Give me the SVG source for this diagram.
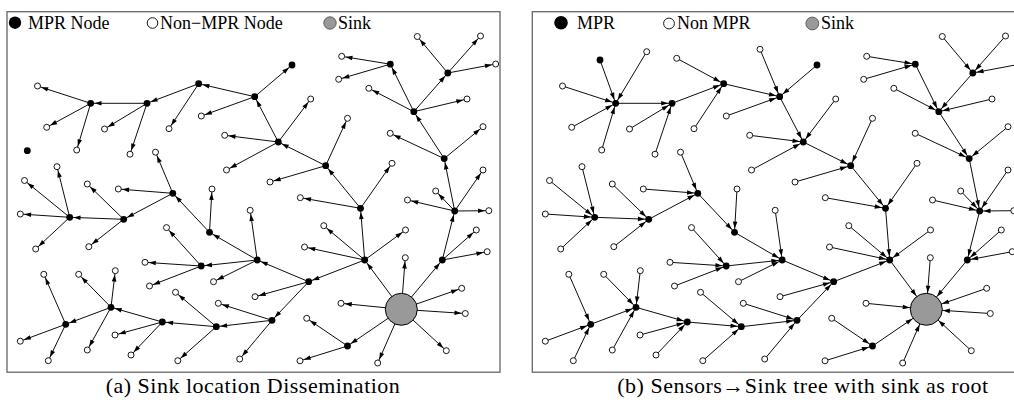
<svg xmlns="http://www.w3.org/2000/svg" width="1014" height="409" viewBox="0 0 1014 409">
<style>
.frame{fill:none;stroke:#666;stroke-width:1.3}
.m circle{fill:#000}
.n circle{fill:#fff;stroke:#000;stroke-width:0.9}
.s circle{fill:#999;stroke:#000;stroke-width:1}
.e line{stroke:#000;stroke-width:0.95;marker-end:url(#ah)}
.e line.k{marker-end:url(#as)}
.lg{font-family:"Liberation Serif","Times New Roman","DejaVu Serif",serif;font-size:18px;fill:#000}
.cap{font-family:"Liberation Serif","Times New Roman","DejaVu Serif",serif;font-size:22px;letter-spacing:0.5px;fill:#000;text-anchor:middle}
</style>
<defs>
<marker id="ah" viewBox="0 -3 12 6" markerWidth="12" markerHeight="6" refX="10.8" refY="0" orient="auto" markerUnits="userSpaceOnUse" overflow="visible"><path d="M0,-2.3L7,0L0,2.3z" fill="#000"/></marker>
<marker id="as" viewBox="0 -3 24 6" markerWidth="24" markerHeight="6" refX="23.6" refY="0" orient="auto" markerUnits="userSpaceOnUse" overflow="visible"><path d="M0,-2.3L7,0L0,2.3z" fill="#000"/></marker>
</defs>
<rect width="1014" height="409" fill="#fff"/>

<!-- panel (a): sink location dissemination -->
<rect class="frame" x="7" y="11.7" width="493" height="360.5"/>
<g id="a-legend">
<circle cx="15" cy="22.7" r="6.2" fill="#000"/>
<text class="lg" x="28" y="29">MPR Node</text>
<circle cx="152.5" cy="23" r="5.3" fill="#fff" stroke="#000" stroke-width="0.9"/>
<text class="lg" x="160" y="29">Non−MPR Node</text>
<circle cx="330" cy="23" r="6.2" fill="#999" stroke="#555" stroke-width="0.9"/>
<text class="lg" x="338" y="29">Sink</text>
</g>
<g id="a-connectors" class="e">
<line x1="90.7" y1="103.3" x2="37.5" y2="86"/>
<line x1="90.7" y1="103.3" x2="46.7" y2="127.3"/>
<line x1="90.7" y1="103.3" x2="76.7" y2="150"/>
<line x1="147" y1="103.3" x2="90.7" y2="103.3"/>
<line x1="147" y1="103.3" x2="104.5" y2="129"/>
<line x1="147" y1="103.3" x2="130" y2="154.2"/>
<line x1="198.7" y1="83.7" x2="147" y2="103.3"/>
<line x1="198.7" y1="83.7" x2="169" y2="128.7"/>
<line x1="254.7" y1="96.7" x2="198.7" y2="83.7"/>
<line x1="254.7" y1="96.7" x2="201.3" y2="116"/>
<line x1="254.7" y1="96.7" x2="292" y2="65"/>
<line x1="278.3" y1="142" x2="254.7" y2="96.7"/>
<line x1="278.3" y1="142" x2="310.7" y2="99"/>
<line x1="278.3" y1="142" x2="224.7" y2="135.3"/>
<line x1="278.3" y1="142" x2="226.5" y2="170"/>
<line x1="325.7" y1="165.7" x2="278.3" y2="142"/>
<line x1="325.7" y1="165.7" x2="270" y2="182"/>
<line x1="325.7" y1="165.7" x2="347.5" y2="118.3"/>
<line x1="360.5" y1="208.3" x2="325.7" y2="165.7"/>
<line x1="360.5" y1="208.3" x2="392" y2="163.3"/>
<line x1="360.5" y1="208.3" x2="300.3" y2="197.7"/>
<line x1="413.8" y1="111.7" x2="390.3" y2="64.2"/>
<line x1="413.8" y1="111.7" x2="447.8" y2="73"/>
<line x1="413.8" y1="111.7" x2="368.8" y2="88.3"/>
<line x1="413.8" y1="111.7" x2="467" y2="99"/>
<line x1="390.3" y1="64.2" x2="341.7" y2="56.3"/>
<line x1="390.3" y1="64.2" x2="338.7" y2="79.3"/>
<line x1="447.8" y1="73" x2="417.3" y2="36.5"/>
<line x1="447.8" y1="73" x2="480.5" y2="36"/>
<line x1="447.8" y1="73" x2="495.7" y2="64"/>
<line x1="444.2" y1="158.6" x2="413.8" y2="111.7"/>
<line x1="444.2" y1="158.6" x2="390.2" y2="133.3"/>
<line x1="444.2" y1="158.6" x2="483" y2="126.7"/>
<line x1="454.7" y1="211" x2="444.2" y2="158.6"/>
<line x1="454.7" y1="211" x2="407.5" y2="200"/>
<line x1="454.7" y1="211" x2="435.7" y2="191"/>
<line x1="454.7" y1="211" x2="488.8" y2="210.7"/>
<line x1="454.7" y1="211" x2="483" y2="170"/>
<line x1="442.3" y1="260" x2="454.7" y2="211"/>
<line x1="442.3" y1="260" x2="476.3" y2="230"/>
<line x1="442.3" y1="260" x2="487.2" y2="251.7"/>
<line x1="401.3" y1="309.3" x2="364.7" y2="260"/>
<line x1="401.3" y1="309.3" x2="405.3" y2="257.7"/>
<line x1="401.3" y1="309.3" x2="442.3" y2="260"/>
<line x1="401.3" y1="309.3" x2="461.7" y2="288.3"/>
<line x1="401.3" y1="309.3" x2="341" y2="303.3"/>
<line x1="401.3" y1="309.3" x2="465.3" y2="313.5"/>
<line x1="401.3" y1="309.3" x2="446.3" y2="350.7"/>
<line x1="401.3" y1="309.3" x2="347.5" y2="346"/>
<line x1="401.3" y1="309.3" x2="377.7" y2="363"/>
<line x1="364.7" y1="260" x2="360.5" y2="208.3"/>
<line x1="364.7" y1="260" x2="323.8" y2="225.7"/>
<line x1="364.7" y1="260" x2="304.5" y2="247"/>
<line x1="364.7" y1="260" x2="308.7" y2="281.7"/>
<line x1="364.7" y1="260" x2="405.5" y2="230"/>
<line x1="308.7" y1="281.7" x2="257.2" y2="260"/>
<line x1="308.7" y1="281.7" x2="255" y2="296.7"/>
<line x1="308.7" y1="281.7" x2="272" y2="320.3"/>
<line x1="257.2" y1="260" x2="209.5" y2="232.3"/>
<line x1="257.2" y1="260" x2="250.2" y2="210.3"/>
<line x1="257.2" y1="260" x2="201.2" y2="266"/>
<line x1="257.2" y1="260" x2="213.5" y2="281.7"/>
<line x1="209.5" y1="232.3" x2="172.8" y2="193.3"/>
<line x1="209.5" y1="232.3" x2="212" y2="189"/>
<line x1="172.8" y1="193.3" x2="155.5" y2="152.2"/>
<line x1="172.8" y1="193.3" x2="123.7" y2="219.3"/>
<line x1="172.8" y1="193.3" x2="118.3" y2="189"/>
<line x1="123.7" y1="219.3" x2="69.7" y2="217.3"/>
<line x1="123.7" y1="219.3" x2="87.3" y2="184"/>
<line x1="123.7" y1="219.3" x2="88.8" y2="246.7"/>
<line x1="69.7" y1="217.3" x2="57" y2="166.7"/>
<line x1="69.7" y1="217.3" x2="24.5" y2="180.5"/>
<line x1="69.7" y1="217.3" x2="20.3" y2="214"/>
<line x1="69.7" y1="217.3" x2="35.7" y2="249"/>
<line x1="201.2" y1="266" x2="166.5" y2="227.6"/>
<line x1="201.2" y1="266" x2="145" y2="262.3"/>
<line x1="201.2" y1="266" x2="149.5" y2="286"/>
<line x1="272" y1="320.3" x2="218.3" y2="303.3"/>
<line x1="272" y1="320.3" x2="216.3" y2="326.7"/>
<line x1="272" y1="320.3" x2="239.7" y2="359"/>
<line x1="216.3" y1="326.7" x2="175.5" y2="292.3"/>
<line x1="216.3" y1="326.7" x2="162.3" y2="322"/>
<line x1="216.3" y1="326.7" x2="177.8" y2="360.7"/>
<line x1="162.3" y1="322" x2="111" y2="307.3"/>
<line x1="162.3" y1="322" x2="115" y2="335"/>
<line x1="162.3" y1="322" x2="131" y2="355"/>
<line x1="111" y1="307.3" x2="65.7" y2="324.3"/>
<line x1="111" y1="307.3" x2="78.7" y2="274.3"/>
<line x1="111" y1="307.3" x2="115.3" y2="270.7"/>
<line x1="111" y1="307.3" x2="87.3" y2="350"/>
<line x1="65.7" y1="324.3" x2="43.8" y2="274.3"/>
<line x1="65.7" y1="324.3" x2="20.3" y2="341.2"/>
<line x1="65.7" y1="324.3" x2="48.3" y2="360.7"/>
<line x1="347.5" y1="346" x2="306.7" y2="318.3"/>
<line x1="347.5" y1="346" x2="300" y2="360.8"/>
</g>
<g id="a-nodes">
<g id="a-S" class="s"><circle cx="401.3" cy="309.3" r="16"/></g>
<g id="a-M1" class="m"><circle cx="90.7" cy="103.3" r="3.4"/></g>
<g id="a-M2" class="m"><circle cx="147" cy="103.3" r="3.4"/></g>
<g id="a-M3" class="m"><circle cx="198.7" cy="83.7" r="3.4"/></g>
<g id="a-M4" class="m"><circle cx="254.7" cy="96.7" r="3.4"/></g>
<g id="a-M5" class="m"><circle cx="292" cy="65" r="3.4"/></g>
<g id="a-M6" class="m"><circle cx="278.3" cy="142" r="3.4"/></g>
<g id="a-M7" class="m"><circle cx="325.7" cy="165.7" r="3.4"/></g>
<g id="a-M8" class="m"><circle cx="390.3" cy="64.2" r="3.4"/></g>
<g id="a-M9" class="m"><circle cx="447.8" cy="73" r="3.4"/></g>
<g id="a-M10" class="m"><circle cx="413.8" cy="111.7" r="3.4"/></g>
<g id="a-M11" class="m"><circle cx="444.2" cy="158.6" r="3.4"/></g>
<g id="a-M12" class="m"><circle cx="27.3" cy="150.7" r="3.4"/></g>
<g id="a-M13" class="m"><circle cx="172.8" cy="193.3" r="3.4"/></g>
<g id="a-M14" class="m"><circle cx="69.7" cy="217.3" r="3.4"/></g>
<g id="a-M15" class="m"><circle cx="123.7" cy="219.3" r="3.4"/></g>
<g id="a-M16" class="m"><circle cx="209.5" cy="232.3" r="3.4"/></g>
<g id="a-M17" class="m"><circle cx="257.2" cy="260" r="3.4"/></g>
<g id="a-M18" class="m"><circle cx="201.2" cy="266" r="3.4"/></g>
<g id="a-M19" class="m"><circle cx="308.7" cy="281.7" r="3.4"/></g>
<g id="a-M20" class="m"><circle cx="272" cy="320.3" r="3.4"/></g>
<g id="a-M21" class="m"><circle cx="216.3" cy="326.7" r="3.4"/></g>
<g id="a-M22" class="m"><circle cx="162.3" cy="322" r="3.4"/></g>
<g id="a-M23" class="m"><circle cx="111" cy="307.3" r="3.4"/></g>
<g id="a-M24" class="m"><circle cx="65.7" cy="324.3" r="3.4"/></g>
<g id="a-M25" class="m"><circle cx="360.5" cy="208.3" r="3.4"/></g>
<g id="a-M26" class="m"><circle cx="454.7" cy="211" r="3.4"/></g>
<g id="a-M27" class="m"><circle cx="364.7" cy="260" r="3.4"/></g>
<g id="a-M28" class="m"><circle cx="442.3" cy="260" r="3.4"/></g>
<g id="a-M29" class="m"><circle cx="347.5" cy="346" r="3.4"/></g>
<g id="a-n1" class="n"><circle cx="37.5" cy="86" r="3"/></g>
<g id="a-n2" class="n"><circle cx="46.7" cy="127.3" r="3"/></g>
<g id="a-n3" class="n"><circle cx="76.7" cy="150" r="3"/></g>
<g id="a-n4" class="n"><circle cx="104.5" cy="129" r="3"/></g>
<g id="a-n5" class="n"><circle cx="130" cy="154.2" r="3"/></g>
<g id="a-n6" class="n"><circle cx="169" cy="128.7" r="3"/></g>
<g id="a-n7" class="n"><circle cx="155.5" cy="152.2" r="3"/></g>
<g id="a-n8" class="n"><circle cx="57" cy="166.7" r="3"/></g>
<g id="a-n9" class="n"><circle cx="24.5" cy="180.5" r="3"/></g>
<g id="a-n10" class="n"><circle cx="87.3" cy="184" r="3"/></g>
<g id="a-n11" class="n"><circle cx="201.3" cy="116" r="3"/></g>
<g id="a-n12" class="n"><circle cx="224.7" cy="135.3" r="3"/></g>
<g id="a-n13" class="n"><circle cx="226.5" cy="170" r="3"/></g>
<g id="a-n14" class="n"><circle cx="310.7" cy="99" r="3"/></g>
<g id="a-n15" class="n"><circle cx="270" cy="182" r="3"/></g>
<g id="a-n16" class="n"><circle cx="341.7" cy="56.3" r="3"/></g>
<g id="a-n17" class="n"><circle cx="417.3" cy="36.5" r="3"/></g>
<g id="a-n18" class="n"><circle cx="480.5" cy="36" r="3"/></g>
<g id="a-n19" class="n"><circle cx="495.7" cy="64" r="3"/></g>
<g id="a-n20" class="n"><circle cx="338.7" cy="79.3" r="3"/></g>
<g id="a-n21" class="n"><circle cx="368.8" cy="88.3" r="3"/></g>
<g id="a-n22" class="n"><circle cx="467" cy="99" r="3"/></g>
<g id="a-n23" class="n"><circle cx="347.5" cy="118.3" r="3"/></g>
<g id="a-n24" class="n"><circle cx="390.2" cy="133.3" r="3"/></g>
<g id="a-n25" class="n"><circle cx="483" cy="126.7" r="3"/></g>
<g id="a-n26" class="n"><circle cx="392" cy="163.3" r="3"/></g>
<g id="a-n27" class="n"><circle cx="483" cy="170" r="3"/></g>
<g id="a-n28" class="n"><circle cx="118.3" cy="189" r="3"/></g>
<g id="a-n29" class="n"><circle cx="20.3" cy="214" r="3"/></g>
<g id="a-n30" class="n"><circle cx="166.5" cy="227.6" r="3"/></g>
<g id="a-n31" class="n"><circle cx="35.7" cy="249" r="3"/></g>
<g id="a-n32" class="n"><circle cx="88.8" cy="246.7" r="3"/></g>
<g id="a-n33" class="n"><circle cx="145" cy="262.3" r="3"/></g>
<g id="a-n34" class="n"><circle cx="149.5" cy="286" r="3"/></g>
<g id="a-n35" class="n"><circle cx="43.8" cy="274.3" r="3"/></g>
<g id="a-n36" class="n"><circle cx="78.7" cy="274.3" r="3"/></g>
<g id="a-n37" class="n"><circle cx="115.3" cy="270.7" r="3"/></g>
<g id="a-n38" class="n"><circle cx="115" cy="335" r="3"/></g>
<g id="a-n39" class="n"><circle cx="20.3" cy="341.2" r="3"/></g>
<g id="a-n40" class="n"><circle cx="87.3" cy="350" r="3"/></g>
<g id="a-n41" class="n"><circle cx="48.3" cy="360.7" r="3"/></g>
<g id="a-n42" class="n"><circle cx="131" cy="355" r="3"/></g>
<g id="a-n43" class="n"><circle cx="212" cy="189" r="3"/></g>
<g id="a-n44" class="n"><circle cx="300.3" cy="197.7" r="3"/></g>
<g id="a-n45" class="n"><circle cx="250.2" cy="210.3" r="3"/></g>
<g id="a-n46" class="n"><circle cx="323.8" cy="225.7" r="3"/></g>
<g id="a-n47" class="n"><circle cx="304.5" cy="247" r="3"/></g>
<g id="a-n48" class="n"><circle cx="213.5" cy="281.7" r="3"/></g>
<g id="a-n49" class="n"><circle cx="175.5" cy="292.3" r="3"/></g>
<g id="a-n50" class="n"><circle cx="218.3" cy="303.3" r="3"/></g>
<g id="a-n51" class="n"><circle cx="255" cy="296.7" r="3"/></g>
<g id="a-n52" class="n"><circle cx="306.7" cy="318.3" r="3"/></g>
<g id="a-n53" class="n"><circle cx="177.8" cy="360.7" r="3"/></g>
<g id="a-n54" class="n"><circle cx="239.7" cy="359" r="3"/></g>
<g id="a-n55" class="n"><circle cx="300" cy="360.8" r="3"/></g>
<g id="a-n56" class="n"><circle cx="407.5" cy="200" r="3"/></g>
<g id="a-n57" class="n"><circle cx="435.7" cy="191" r="3"/></g>
<g id="a-n58" class="n"><circle cx="488.8" cy="210.7" r="3"/></g>
<g id="a-n59" class="n"><circle cx="476.3" cy="230" r="3"/></g>
<g id="a-n60" class="n"><circle cx="487.2" cy="251.7" r="3"/></g>
<g id="a-n61" class="n"><circle cx="405.3" cy="257.7" r="3"/></g>
<g id="a-n62" class="n"><circle cx="461.7" cy="288.3" r="3"/></g>
<g id="a-n63" class="n"><circle cx="341" cy="303.3" r="3"/></g>
<g id="a-n64" class="n"><circle cx="465.3" cy="313.5" r="3"/></g>
<g id="a-n65" class="n"><circle cx="446.3" cy="350.7" r="3"/></g>
<g id="a-n66" class="n"><circle cx="377.7" cy="363" r="3"/></g>
<g id="a-n67" class="n"><circle cx="405.5" cy="230" r="3"/></g>
</g>
<text class="cap" x="253" y="393">(a) Sink location Dissemination</text>

<!-- panel (b): sensors-to-sink tree, same layout shifted right -->
<rect class="frame" x="532.3" y="11.7" width="493" height="360.5"/>
<g id="b-legend">
<circle cx="561" cy="22.7" r="6.8" fill="#000"/>
<text class="lg" x="577" y="29">MPR</text>
<circle cx="669" cy="23.5" r="5.4" fill="#fff" stroke="#000" stroke-width="0.9"/>
<text class="lg" x="677" y="29">Non MPR</text>
<circle cx="812.3" cy="23.5" r="6.4" fill="#999" stroke="#555" stroke-width="0.9"/>
<text class="lg" x="821" y="29">Sink</text>
</g>
<g transform="translate(525,0)">
<g id="b-connectors" class="e">
<line x2="90.7" y2="103.3" x1="37.5" y1="86"/>
<line x2="90.7" y2="103.3" x1="46.7" y1="127.3"/>
<line x2="90.7" y2="103.3" x1="76.7" y1="150"/>
<line x2="90.7" y2="103.3" x1="75" y1="60"/>
<line x2="90.7" y2="103.3" x1="121.7" y1="51.7"/>
<line x2="147" y2="103.3" x1="90.7" y1="103.3"/>
<line x2="147" y2="103.3" x1="104.5" y1="129"/>
<line x2="147" y2="103.3" x1="130" y1="154.2"/>
<line x2="198.7" y2="83.7" x1="147" y1="103.3"/>
<line x2="198.7" y2="83.7" x1="169" y1="128.7"/>
<line x2="198.7" y2="83.7" x1="151.7" y1="58.3"/>
<line x2="254.7" y2="96.7" x1="198.7" y1="83.7"/>
<line x2="254.7" y2="96.7" x1="201.3" y1="116"/>
<line x2="254.7" y2="96.7" x1="292" y1="65"/>
<line x2="254.7" y2="96.7" x1="235" y1="49.3"/>
<line x2="278.3" y2="142" x1="254.7" y1="96.7"/>
<line x2="278.3" y2="142" x1="310.7" y1="99"/>
<line x2="278.3" y2="142" x1="224.7" y1="135.3"/>
<line x2="278.3" y2="142" x1="226.5" y1="170"/>
<line x2="325.7" y2="165.7" x1="278.3" y1="142"/>
<line x2="325.7" y2="165.7" x1="270" y1="182"/>
<line x2="325.7" y2="165.7" x1="347.5" y1="118.3"/>
<line x2="360.5" y2="208.3" x1="325.7" y1="165.7"/>
<line x2="360.5" y2="208.3" x1="392" y1="163.3"/>
<line x2="360.5" y2="208.3" x1="300.3" y1="197.7"/>
<line x2="413.8" y2="111.7" x1="390.3" y1="64.2"/>
<line x2="413.8" y2="111.7" x1="447.8" y1="73"/>
<line x2="413.8" y2="111.7" x1="368.8" y1="88.3"/>
<line x2="413.8" y2="111.7" x1="467" y1="99"/>
<line x2="390.3" y2="64.2" x1="341.7" y1="56.3"/>
<line x2="390.3" y2="64.2" x1="338.7" y1="79.3"/>
<line x2="447.8" y2="73" x1="417.3" y1="36.5"/>
<line x2="447.8" y2="73" x1="480.5" y1="36"/>
<line x2="447.8" y2="73" x1="495.7" y1="64"/>
<line x2="444.2" y2="158.6" x1="413.8" y1="111.7"/>
<line x2="444.2" y2="158.6" x1="390.2" y1="133.3"/>
<line x2="444.2" y2="158.6" x1="483" y1="126.7"/>
<line x2="454.7" y2="211" x1="444.2" y1="158.6"/>
<line x2="454.7" y2="211" x1="407.5" y1="200"/>
<line x2="454.7" y2="211" x1="435.7" y1="191"/>
<line x2="454.7" y2="211" x1="488.8" y1="210.7"/>
<line x2="454.7" y2="211" x1="483" y1="170"/>
<line x2="442.3" y2="260" x1="454.7" y1="211"/>
<line x2="442.3" y2="260" x1="476.3" y1="230"/>
<line x2="442.3" y2="260" x1="487.2" y1="251.7"/>
<line class="k" x2="401.3" y2="309.3" x1="364.7" y1="260"/>
<line class="k" x2="401.3" y2="309.3" x1="405.3" y1="257.7"/>
<line class="k" x2="401.3" y2="309.3" x1="442.3" y1="260"/>
<line class="k" x2="401.3" y2="309.3" x1="461.7" y1="288.3"/>
<line class="k" x2="401.3" y2="309.3" x1="341" y1="303.3"/>
<line class="k" x2="401.3" y2="309.3" x1="465.3" y1="313.5"/>
<line class="k" x2="401.3" y2="309.3" x1="446.3" y1="350.7"/>
<line class="k" x2="401.3" y2="309.3" x1="347.5" y1="346"/>
<line class="k" x2="401.3" y2="309.3" x1="377.7" y1="363"/>
<line x2="364.7" y2="260" x1="360.5" y1="208.3"/>
<line x2="364.7" y2="260" x1="323.8" y1="225.7"/>
<line x2="364.7" y2="260" x1="304.5" y1="247"/>
<line x2="364.7" y2="260" x1="308.7" y1="281.7"/>
<line x2="364.7" y2="260" x1="405.5" y1="230"/>
<line x2="308.7" y2="281.7" x1="257.2" y1="260"/>
<line x2="308.7" y2="281.7" x1="255" y1="296.7"/>
<line x2="308.7" y2="281.7" x1="272" y1="320.3"/>
<line x2="257.2" y2="260" x1="209.5" y1="232.3"/>
<line x2="257.2" y2="260" x1="250.2" y1="210.3"/>
<line x2="257.2" y2="260" x1="201.2" y1="266"/>
<line x2="257.2" y2="260" x1="213.5" y1="281.7"/>
<line x2="209.5" y2="232.3" x1="172.8" y1="193.3"/>
<line x2="209.5" y2="232.3" x1="212" y1="189"/>
<line x2="172.8" y2="193.3" x1="155.5" y1="152.2"/>
<line x2="172.8" y2="193.3" x1="123.7" y1="219.3"/>
<line x2="172.8" y2="193.3" x1="118.3" y1="189"/>
<line x2="123.7" y2="219.3" x1="69.7" y1="217.3"/>
<line x2="123.7" y2="219.3" x1="87.3" y1="184"/>
<line x2="123.7" y2="219.3" x1="88.8" y1="246.7"/>
<line x2="69.7" y2="217.3" x1="57" y1="166.7"/>
<line x2="69.7" y2="217.3" x1="24.5" y1="180.5"/>
<line x2="69.7" y2="217.3" x1="20.3" y1="214"/>
<line x2="69.7" y2="217.3" x1="35.7" y1="249"/>
<line x2="201.2" y2="266" x1="166.5" y1="227.6"/>
<line x2="201.2" y2="266" x1="145" y1="262.3"/>
<line x2="201.2" y2="266" x1="149.5" y1="286"/>
<line x2="272" y2="320.3" x1="218.3" y1="303.3"/>
<line x2="272" y2="320.3" x1="216.3" y1="326.7"/>
<line x2="272" y2="320.3" x1="239.7" y1="359"/>
<line x2="216.3" y2="326.7" x1="175.5" y1="292.3"/>
<line x2="216.3" y2="326.7" x1="162.3" y1="322"/>
<line x2="216.3" y2="326.7" x1="177.8" y1="360.7"/>
<line x2="162.3" y2="322" x1="111" y1="307.3"/>
<line x2="162.3" y2="322" x1="115" y1="335"/>
<line x2="162.3" y2="322" x1="131" y1="355"/>
<line x2="111" y2="307.3" x1="65.7" y1="324.3"/>
<line x2="111" y2="307.3" x1="78.7" y1="274.3"/>
<line x2="111" y2="307.3" x1="115.3" y1="270.7"/>
<line x2="111" y2="307.3" x1="87.3" y1="350"/>
<line x2="65.7" y2="324.3" x1="43.8" y1="274.3"/>
<line x2="65.7" y2="324.3" x1="20.3" y1="341.2"/>
<line x2="65.7" y2="324.3" x1="48.3" y1="360.7"/>
<line x2="347.5" y2="346" x1="306.7" y1="318.3"/>
<line x2="347.5" y2="346" x1="300" y1="360.8"/>
</g>
<g id="b-nodes">
<g id="b-S" class="s"><circle cx="401.3" cy="309.3" r="16"/></g>
<g id="b-M0" class="m"><circle cx="75" cy="60" r="3.4"/></g>
<g id="b-M1" class="m"><circle cx="90.7" cy="103.3" r="3.4"/></g>
<g id="b-M2" class="m"><circle cx="147" cy="103.3" r="3.4"/></g>
<g id="b-M3" class="m"><circle cx="198.7" cy="83.7" r="3.4"/></g>
<g id="b-M4" class="m"><circle cx="254.7" cy="96.7" r="3.4"/></g>
<g id="b-M5" class="m"><circle cx="292" cy="65" r="3.4"/></g>
<g id="b-M6" class="m"><circle cx="278.3" cy="142" r="3.4"/></g>
<g id="b-M7" class="m"><circle cx="325.7" cy="165.7" r="3.4"/></g>
<g id="b-M8" class="m"><circle cx="390.3" cy="64.2" r="3.4"/></g>
<g id="b-M9" class="m"><circle cx="447.8" cy="73" r="3.4"/></g>
<g id="b-M10" class="m"><circle cx="413.8" cy="111.7" r="3.4"/></g>
<g id="b-M11" class="m"><circle cx="444.2" cy="158.6" r="3.4"/></g>
<g id="b-M13" class="m"><circle cx="172.8" cy="193.3" r="3.4"/></g>
<g id="b-M14" class="m"><circle cx="69.7" cy="217.3" r="3.4"/></g>
<g id="b-M15" class="m"><circle cx="123.7" cy="219.3" r="3.4"/></g>
<g id="b-M16" class="m"><circle cx="209.5" cy="232.3" r="3.4"/></g>
<g id="b-M17" class="m"><circle cx="257.2" cy="260" r="3.4"/></g>
<g id="b-M18" class="m"><circle cx="201.2" cy="266" r="3.4"/></g>
<g id="b-M19" class="m"><circle cx="308.7" cy="281.7" r="3.4"/></g>
<g id="b-M20" class="m"><circle cx="272" cy="320.3" r="3.4"/></g>
<g id="b-M21" class="m"><circle cx="216.3" cy="326.7" r="3.4"/></g>
<g id="b-M22" class="m"><circle cx="162.3" cy="322" r="3.4"/></g>
<g id="b-M23" class="m"><circle cx="111" cy="307.3" r="3.4"/></g>
<g id="b-M24" class="m"><circle cx="65.7" cy="324.3" r="3.4"/></g>
<g id="b-M25" class="m"><circle cx="360.5" cy="208.3" r="3.4"/></g>
<g id="b-M26" class="m"><circle cx="454.7" cy="211" r="3.4"/></g>
<g id="b-M27" class="m"><circle cx="364.7" cy="260" r="3.4"/></g>
<g id="b-M28" class="m"><circle cx="442.3" cy="260" r="3.4"/></g>
<g id="b-M29" class="m"><circle cx="347.5" cy="346" r="3.4"/></g>
<g id="b-n0a" class="n"><circle cx="121.7" cy="51.7" r="3"/></g>
<g id="b-n0b" class="n"><circle cx="151.7" cy="58.3" r="3"/></g>
<g id="b-n0c" class="n"><circle cx="235" cy="49.3" r="3"/></g>
<g id="b-n1" class="n"><circle cx="37.5" cy="86" r="3"/></g>
<g id="b-n2" class="n"><circle cx="46.7" cy="127.3" r="3"/></g>
<g id="b-n3" class="n"><circle cx="76.7" cy="150" r="3"/></g>
<g id="b-n4" class="n"><circle cx="104.5" cy="129" r="3"/></g>
<g id="b-n5" class="n"><circle cx="130" cy="154.2" r="3"/></g>
<g id="b-n6" class="n"><circle cx="169" cy="128.7" r="3"/></g>
<g id="b-n7" class="n"><circle cx="155.5" cy="152.2" r="3"/></g>
<g id="b-n8" class="n"><circle cx="57" cy="166.7" r="3"/></g>
<g id="b-n9" class="n"><circle cx="24.5" cy="180.5" r="3"/></g>
<g id="b-n10" class="n"><circle cx="87.3" cy="184" r="3"/></g>
<g id="b-n11" class="n"><circle cx="201.3" cy="116" r="3"/></g>
<g id="b-n12" class="n"><circle cx="224.7" cy="135.3" r="3"/></g>
<g id="b-n13" class="n"><circle cx="226.5" cy="170" r="3"/></g>
<g id="b-n14" class="n"><circle cx="310.7" cy="99" r="3"/></g>
<g id="b-n15" class="n"><circle cx="270" cy="182" r="3"/></g>
<g id="b-n16" class="n"><circle cx="341.7" cy="56.3" r="3"/></g>
<g id="b-n17" class="n"><circle cx="417.3" cy="36.5" r="3"/></g>
<g id="b-n18" class="n"><circle cx="480.5" cy="36" r="3"/></g>
<g id="b-n20" class="n"><circle cx="338.7" cy="79.3" r="3"/></g>
<g id="b-n21" class="n"><circle cx="368.8" cy="88.3" r="3"/></g>
<g id="b-n22" class="n"><circle cx="467" cy="99" r="3"/></g>
<g id="b-n23" class="n"><circle cx="347.5" cy="118.3" r="3"/></g>
<g id="b-n24" class="n"><circle cx="390.2" cy="133.3" r="3"/></g>
<g id="b-n25" class="n"><circle cx="483" cy="126.7" r="3"/></g>
<g id="b-n26" class="n"><circle cx="392" cy="163.3" r="3"/></g>
<g id="b-n27" class="n"><circle cx="483" cy="170" r="3"/></g>
<g id="b-n28" class="n"><circle cx="118.3" cy="189" r="3"/></g>
<g id="b-n29" class="n"><circle cx="20.3" cy="214" r="3"/></g>
<g id="b-n30" class="n"><circle cx="166.5" cy="227.6" r="3"/></g>
<g id="b-n31" class="n"><circle cx="35.7" cy="249" r="3"/></g>
<g id="b-n32" class="n"><circle cx="88.8" cy="246.7" r="3"/></g>
<g id="b-n33" class="n"><circle cx="145" cy="262.3" r="3"/></g>
<g id="b-n34" class="n"><circle cx="149.5" cy="286" r="3"/></g>
<g id="b-n35" class="n"><circle cx="43.8" cy="274.3" r="3"/></g>
<g id="b-n36" class="n"><circle cx="78.7" cy="274.3" r="3"/></g>
<g id="b-n37" class="n"><circle cx="115.3" cy="270.7" r="3"/></g>
<g id="b-n38" class="n"><circle cx="115" cy="335" r="3"/></g>
<g id="b-n39" class="n"><circle cx="20.3" cy="341.2" r="3"/></g>
<g id="b-n40" class="n"><circle cx="87.3" cy="350" r="3"/></g>
<g id="b-n41" class="n"><circle cx="48.3" cy="360.7" r="3"/></g>
<g id="b-n42" class="n"><circle cx="131" cy="355" r="3"/></g>
<g id="b-n43" class="n"><circle cx="212" cy="189" r="3"/></g>
<g id="b-n44" class="n"><circle cx="300.3" cy="197.7" r="3"/></g>
<g id="b-n45" class="n"><circle cx="250.2" cy="210.3" r="3"/></g>
<g id="b-n46" class="n"><circle cx="323.8" cy="225.7" r="3"/></g>
<g id="b-n47" class="n"><circle cx="304.5" cy="247" r="3"/></g>
<g id="b-n48" class="n"><circle cx="213.5" cy="281.7" r="3"/></g>
<g id="b-n49" class="n"><circle cx="175.5" cy="292.3" r="3"/></g>
<g id="b-n50" class="n"><circle cx="218.3" cy="303.3" r="3"/></g>
<g id="b-n51" class="n"><circle cx="255" cy="296.7" r="3"/></g>
<g id="b-n52" class="n"><circle cx="306.7" cy="318.3" r="3"/></g>
<g id="b-n53" class="n"><circle cx="177.8" cy="360.7" r="3"/></g>
<g id="b-n54" class="n"><circle cx="239.7" cy="359" r="3"/></g>
<g id="b-n55" class="n"><circle cx="300" cy="360.8" r="3"/></g>
<g id="b-n56" class="n"><circle cx="407.5" cy="200" r="3"/></g>
<g id="b-n57" class="n"><circle cx="435.7" cy="191" r="3"/></g>
<g id="b-n58" class="n"><circle cx="488.8" cy="210.7" r="3"/></g>
<g id="b-n59" class="n"><circle cx="476.3" cy="230" r="3"/></g>
<g id="b-n60" class="n"><circle cx="487.2" cy="251.7" r="3"/></g>
<g id="b-n61" class="n"><circle cx="405.3" cy="257.7" r="3"/></g>
<g id="b-n62" class="n"><circle cx="461.7" cy="288.3" r="3"/></g>
<g id="b-n63" class="n"><circle cx="341" cy="303.3" r="3"/></g>
<g id="b-n64" class="n"><circle cx="465.3" cy="313.5" r="3"/></g>
<g id="b-n65" class="n"><circle cx="446.3" cy="350.7" r="3"/></g>
<g id="b-n66" class="n"><circle cx="377.7" cy="363" r="3"/></g>
<g id="b-n67" class="n"><circle cx="405.5" cy="230" r="3"/></g>
</g>
</g>
<text class="cap" x="803" y="393">(b) Sensors→Sink tree with sink as root</text>
</svg>
